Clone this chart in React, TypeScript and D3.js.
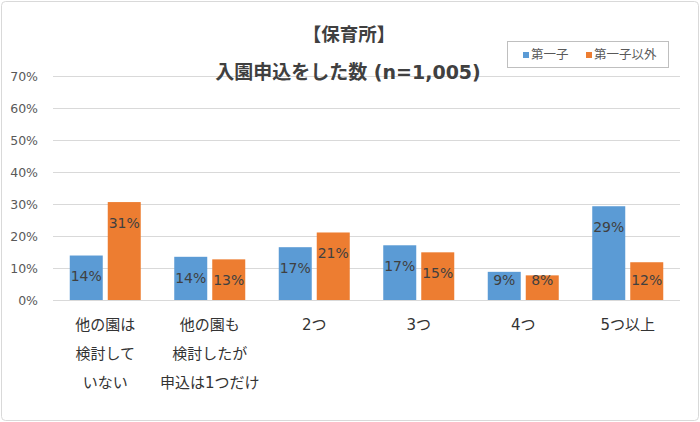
import React, { useRef, useEffect } from "react";
import { select, scaleBand, scaleLinear, axisLeft } from "d3";

const categories = ["c1", "c2", "c3", "c4", "c5", "c6"];
const categoryLines = [
  ["他の園は", "検討して", "いない"],
  ["他の園も", "検討したが", "申込は1つだけ"],
  ["2つ"],
  ["3つ"],
  ["4つ"],
  ["5つ以上"],
];
const seriesNames = ["第一子", "第一子以外"];
const firstChild = [13.9, 13.5, 16.5, 17.1, 8.8, 29.3];
const otherChild = [30.6, 12.7, 21.1, 14.9, 7.7, 11.8];
const yTicks = [0, 10, 20, 30, 40, 50, 60, 70];
const colors = ["#5B9BD5", "#ED7D31"];
const title1 = "【保育所】";
const title2 = "入園申込をした数 (n=1,005)";

const W = 700;
const H = 422;
const FONT = "'DejaVu Sans', 'Noto Sans CJK JP', sans-serif";

const App: React.FC = () => {
  const svgRef = useRef<SVGSVGElement>(null);

  useEffect(() => {
    const svg = select(svgRef.current);
    svg.selectAll("*").remove();

    const left = 53;
    const right = 680;
    const top = 76;
    const bottom = 300;

    const x0 = scaleBand<string>().domain(categories).range([left, right]);
    const bw = x0.bandwidth();
    const x1 = scaleBand<string>()
      .domain(seriesNames)
      .range([(bw - 71) / 2, (bw + 71) / 2])
      .paddingInner(5 / 38);
    const y = scaleLinear().domain([0, 70]).range([bottom, top]);

    // outer frame
    svg
      .append("rect")
      .attr("x", 1.5)
      .attr("y", 1.5)
      .attr("width", W - 3)
      .attr("height", H - 3)
      .attr("rx", 4)
      .attr("fill", "#fff")
      .attr("stroke", "#D9D9D9");

    // y axis with grid
    const yAxis = axisLeft(y)
      .tickValues(yTicks)
      .tickSize(-(right - left))
      .tickPadding(15)
      .tickFormat((d) => `${d}%`);
    const gy = svg
      .append("g")
      .attr("transform", `translate(${left},0)`)
      .call(yAxis);
    gy.select(".domain").remove();
    gy.selectAll(".tick line").attr("stroke", "#D9D9D9").attr("stroke-width", 1);
    gy.selectAll(".tick text")
      .attr("fill", "#595959")
      .style("font-family", FONT)
      .style("font-size", "12.5px");

    // bars
    const rows = categories.map((c, i) => ({
      c,
      vals: [firstChild[i], otherChild[i]],
    }));
    const groups = svg
      .selectAll("g.grp")
      .data(rows)
      .join("g")
      .attr("class", "grp")
      .attr("transform", (d) => `translate(${x0(d.c)},0)`);

    groups
      .selectAll("rect")
      .data((d) => d.vals.map((v, k) => ({ v, k })))
      .join("rect")
      .attr("x", (d) => x1(seriesNames[d.k])!)
      .attr("y", (d) => y(d.v))
      .attr("width", x1.bandwidth())
      .attr("height", (d) => y(0) - y(d.v))
      .attr("fill", (d) => colors[d.k]);

    groups
      .selectAll("text")
      .data((d) => d.vals.map((v, k) => ({ v, k })))
      .join("text")
      .attr("x", (d) => x1(seriesNames[d.k])! + x1.bandwidth() / 2)
      .attr("y", (d) => Math.min(y(d.v) + 21, y(0) - 20))
      .attr("dy", "0.35em")
      .attr("text-anchor", "middle")
      .attr("fill", "#404040")
      .style("font-family", FONT)
      .style("font-size", "14px")
      .text((d) => `${Math.round(d.v)}%`);

    // category labels
    const cl = svg
      .selectAll("g.cat")
      .data(categories)
      .join("g")
      .attr("class", "cat")
      .attr("transform", (c) => `translate(${x0(c)! + bw / 2},0)`);
    cl.selectAll("text")
      .data((c) => categoryLines[categories.indexOf(c)])
      .join("text")
      .attr("x", 0)
      .attr("y", (d, i) => 325 + i * 29)
      .attr("dy", "0.35em")
      .attr("text-anchor", "middle")
      .attr("fill", "#333")
      .style("font-family", FONT)
      .style("font-size", "15px")
      .text((d) => d);

    // titles
    svg
      .append("text")
      .attr("x", 349)
      .attr("y", 35)
      .attr("dy", "0.35em")
      .attr("text-anchor", "middle")
      .attr("fill", "#404040")
      .style("font-family", FONT)
      .style("font-size", "18.5px")
      .style("font-weight", "bold")
      .text(title1);
    svg
      .append("text")
      .attr("x", 348)
      .attr("y", 72)
      .attr("dy", "0.35em")
      .attr("text-anchor", "middle")
      .attr("fill", "#404040")
      .style("font-family", FONT)
      .style("font-size", "19px")
      .style("font-weight", "bold")
      .text(title2);

    // legend
    const lg = svg.append("g").attr("transform", "translate(507,41)");
    lg.append("rect")
      .attr("x", 0.5)
      .attr("y", 0.5)
      .attr("width", 161)
      .attr("height", 26)
      .attr("fill", "#fff")
      .attr("stroke", "#BFBFBF");
    const legendX = [16, 79];
    seriesNames.forEach((s, k) => {
      lg.append("rect")
        .attr("x", legendX[k])
        .attr("y", 11)
        .attr("width", 6)
        .attr("height", 6)
        .attr("fill", colors[k]);
      lg.append("text")
        .attr("x", legendX[k] + 8)
        .attr("y", 14)
        .attr("dy", "0.35em")
        .attr("fill", "#595959")
        .style("font-family", FONT)
        .style("font-size", "12.5px")
        .text(s);
    });
  }, []);

  return (
    <svg
      ref={svgRef}
      width={W}
      height={H}
      style={{ position: "absolute", left: 0, top: 0 }}
    ></svg>
  );
};

export default App;
